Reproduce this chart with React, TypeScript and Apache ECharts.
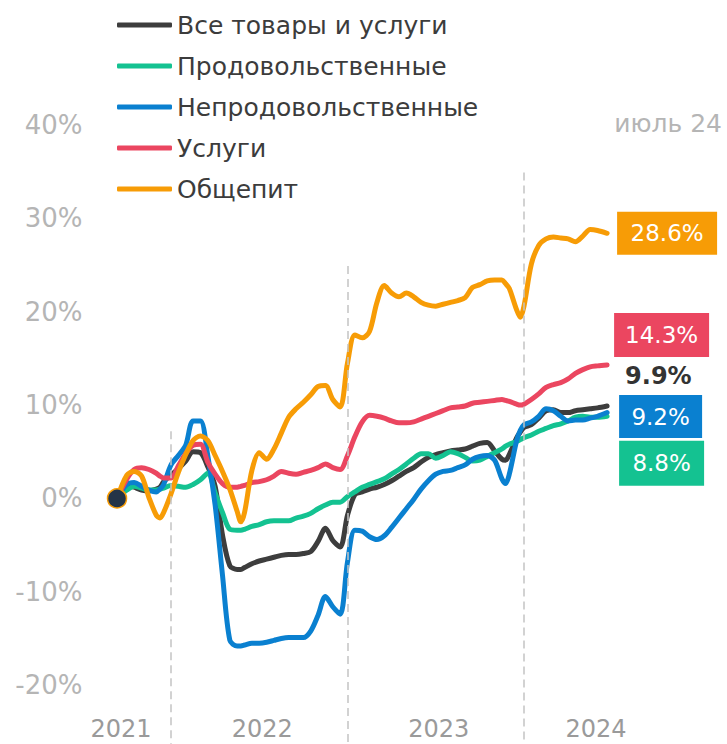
import React, { useEffect, useRef } from "react";
import * as echarts from "echarts";

const months = [
  8.33, 9, 9.5, 10, 10.5, 11, 11.25, 11.5, 12, 12.5, 13, 13.5, 14, 14.5, 15, 15.5, 16, 16.5, 16.75,
  17, 17.5, 18, 18.5, 19, 19.5, 20, 20.5, 21, 21.5, 22, 22.5, 23, 23.5, 24, 24.5, 25, 25.5, 26, 26.5,
  27, 27.5, 28, 28.5, 29, 29.5, 30, 30.5, 31, 31.5, 32, 32.5, 33, 33.5, 34, 34.5, 34.75, 35, 35.5, 35.75,
  36, 36.5, 37, 37.5, 38, 38.5, 39, 39.5, 40, 40.5, 41, 41.65,
];

const allGoods = [
  0, 1.5, 1.2, 0.9, 0.8, 1.0, 1.2, 1.8, 2.5, 3.2, 4.0, 5.0, 4.9, 3.4, 1.3, -3.9, -7.2, -7.6, -7.6,
  -7.4, -7.0, -6.7, -6.5, -6.3, -6.1, -6.0, -6.0, -5.9, -5.7, -4.6, -3.2, -4.5, -5.2, -1.8, 0.4, 0.7, 1.0, 1.2, 1.5,
  1.9, 2.4, 2.9, 3.3, 3.9, 4.4, 4.7, 4.9, 5.1, 5.2, 5.3, 5.6, 5.9, 6.0, 5.1, 4.2, 4.1, 4.7, 6.5, 7.1,
  7.6, 7.9, 8.6, 9.4, 9.5, 9.2, 9.2, 9.4, 9.5, 9.6, 9.7, 9.9,
];

const food = [
  0, 0.9, 1.3, 1.1, 0.9, 0.9, 1.0, 1.1, 1.4, 1.3, 1.2, 1.5, 2.0, 2.7, 0.6, -1.5, -3.3, -3.4, -3.4,
  -3.3, -3.0, -2.8, -2.5, -2.4, -2.4, -2.4, -2.1, -1.9, -1.6, -1.1, -0.7, -0.4, -0.4, 0.2, 0.7, 1.2, 1.5, 1.8, 2.1,
  2.6, 3.1, 3.7, 4.3, 4.8, 4.8, 4.3, 4.6, 5.0, 4.8, 4.4, 4.0, 4.1, 4.5, 4.9, 5.3, 5.6, 5.8, 6.1, 6.3,
  6.5, 6.8, 7.2, 7.5, 7.8, 8.0, 8.3, 8.7, 8.8, 8.7, 8.7, 8.8,
];

const nonFood = [
  0, 1.5, 1.7, 1.3, 0.9, 0.7, 1.0, 1.5, 3.6, 4.6, 5.7, 8.3, 8.3, 4.6, -0.7, -8.2, -15.2, -15.8, -15.8,
  -15.7, -15.5, -15.5, -15.4, -15.2, -15.0, -14.9, -14.9, -14.9, -14.2, -12.5, -10.5, -11.6, -12.4, -6.8, -3.4, -3.5, -4.1, -4.4, -4.0,
  -3.1, -2.1, -1.1, -0.1, 1.0, 1.9, 2.6, 2.9, 3.0, 3.3, 3.6, 4.2, 4.5, 4.6, 4.1, 2.1, 1.6, 2.6, 6.2, 7.3,
  7.9, 8.2, 8.8, 9.6, 9.4, 8.8, 8.3, 8.4, 8.4, 8.6, 8.8, 9.2,
];

const services = [
  0, 2.1, 3.1, 3.3, 3.1, 2.7, 2.4, 2.2, 2.2, 3.5, 4.8, 5.7, 5.8, 3.9, 2.6, 1.6, 1.2, 1.2, 1.3,
  1.4, 1.7, 1.8, 2.0, 2.4, 2.9, 2.7, 2.6, 2.8, 3.0, 3.3, 3.7, 3.3, 3.1, 4.6, 6.6, 8.2, 8.9, 8.8, 8.6,
  8.3, 8.1, 8.1, 8.2, 8.5, 8.8, 9.1, 9.4, 9.7, 9.8, 9.9, 10.2, 10.3, 10.4, 10.5, 10.6, 10.5, 10.4, 10.1, 10.0,
  10.1, 10.6, 11.2, 11.9, 12.2, 12.4, 12.8, 13.4, 13.8, 14.1, 14.2, 14.3,
];

const catering = [
  0, 2.5, 2.9, 2.4, 0.1, -1.8, -2.1, -1.5, 0.5, 2.8, 4.7, 6.2, 6.7, 6.2, 4.6, 2.9, 1.0, -1.4, -2.5,
  -1.5, 3.0, 4.9, 4.2, 5.3, 7.0, 8.7, 9.6, 10.3, 11.1, 12.0, 12.1, 10.6, 9.8, 14.5, 17.5, 17.2, 17.9, 21.0, 22.8,
  22.0, 21.6, 22.0, 21.6, 21.0, 20.7, 20.6, 20.8, 21.0, 21.2, 21.5, 22.6, 22.9, 23.3, 23.4, 23.4, 23.0, 22.5, 20.2, 19.4,
  20.6, 25.1, 27.1, 27.8, 28.0, 27.9, 27.8, 27.5, 28.1, 28.8, 28.7, 28.4,
];

const seriesNames = [
  "Все товары и услуги",
  "Продовольственные",
  "Непродовольственные",
  "Услуги",
  "Общепит",
];
const seriesValues = [allGoods, food, nonFood, services, catering];
const endValues = ["9.9%", "8.8%", "9.2%", "14.3%", "28.6%"];

const yTicks = [-20, -10, 0, 10, 20, 30, 40];
const yearLabels = ["2021", "2022", "2023", "2024"];
const yearLabelPos = [8.6, 18.2, 30.2, 40.9];
const yearBoundaries = [12, 24, 36];
const boundaryTops = [7.2, 24.9, 34.9];
const periodLabel = "июль 24";

const colors = ["#3d3d3d", "#14c291", "#0a80d0", "#eb4660", "#f79c06"];
const FONT = "DejaVu Sans";
const Y_MIN = -26.3;
const Y_MAX = 40;

// label styling: [dx, dy, boxWidth, boxHeight]
const labelBoxes = [
  [18, -30, 0, 0],
  [12, 47, 85, 45],
  [12, 4, 83, 43],
  [7, -30, 95, 44],
  [10, 0, 100, 43],
];

export default function App() {
  const ref = useRef<HTMLDivElement>(null);

  useEffect(() => {
    if (!ref.current) return;
    const chart = echarts.init(ref.current, undefined, { renderer: "svg" });

    const lineSeries = seriesNames.map((name, i) => {
      const [dx, dy, w, h] = labelBoxes[i];
      const isPlain = i === 0;
      const s: any = {
        name,
        type: "line",
        data: months.map((m, k) => [m, seriesValues[i][k]]),
        showSymbol: false,
        symbol: "none",
        smooth: 0.3,
        color: colors[i],
        lineStyle: { width: 5, color: colors[i], cap: "round", join: "round" },
        itemStyle: { color: colors[i] },
        emphasis: { disabled: true },
        endLabel: {
          show: true,
          distance: 0,
          offset: [dx, dy],
          formatter: () => `{v|${endValues[i]}}`,
          rich: isPlain
            ? {
                v: {
                  color: "#333333",
                  fontSize: 24,
                  fontWeight: "bold",
                  fontFamily: FONT,
                },
              }
            : {
                v: {
                  width: w,
                  height: h,
                  lineHeight: h,
                  align: "center",
                  backgroundColor: colors[i],
                  color: "#ffffff",
                  fontSize: 23,
                  fontFamily: FONT,
                },
              },
        },
      };
      if (i === 0) {
        s.markLine = {
          silent: true,
          symbol: "none",
          label: { show: false },
          lineStyle: { color: "#c4c4c4", type: [8, 5], width: 1.5 },
          data: yearBoundaries.map((x, k) => [
            { coord: [x, boundaryTops[k]] },
            { coord: [x, Y_MIN] },
          ]),
        };
      }
      return s;
    });

    const option: any = {
      animation: false,
      title: {
        text: periodLabel,
        right: 5,
        top: 111,
        padding: 0,
        textStyle: { color: "#b5b5b5", fontSize: 25, fontWeight: "normal", fontFamily: FONT },
      },
      legend: {
        data: seriesNames,
        orient: "vertical",
        left: 117,
        top: 12,
        padding: 0,
        itemWidth: 55,
        itemHeight: 5,
        itemGap: 15,
        icon: "roundRect",
        selectedMode: false,
        textStyle: { fontSize: 25, color: "#3c3c3c", fontFamily: FONT, lineHeight: 26 },
      },
      grid: { left: 97.46, right: 85.34, top: 125, bottom: 0 },
      xAxis: {
        type: "value",
        min: 7,
        max: 44,
        axisLine: { show: false },
        axisTick: { show: false },
        splitLine: { show: false },
        axisLabel: {
          customValues: yearLabelPos,
          inside: true,
          margin: 3,
          color: "#9a9a9a",
          fontSize: 24,
          fontFamily: FONT,
          formatter: (v: number) => {
            let best = 0;
            yearLabelPos.forEach((p, k) => {
              if (Math.abs(p - v) < Math.abs(yearLabelPos[best] - v)) best = k;
            });
            return yearLabels[best];
          },
        },
      },
      yAxis: {
        type: "value",
        min: Y_MIN,
        max: Y_MAX,
        axisLine: { show: false },
        axisTick: { show: false },
        splitLine: { show: false },
        axisLabel: {
          customValues: yTicks,
          formatter: "{value}%",
          color: "#b5b5b5",
          fontSize: 26,
          margin: 15,
          fontFamily: FONT,
        },
      },
      series: [
        ...lineSeries,
        {
          name: "start",
          type: "scatter",
          data: [[months[0], allGoods[0]]],
          symbolSize: 19,
          itemStyle: { color: "#243447", borderColor: "#f79c06", borderWidth: 1.5, opacity: 1 },
          z: 10,
          silent: true,
        },
      ],
    };

    chart.setOption(option);
    return () => chart.dispose();
  }, []);

  return (
    <div
      ref={ref}
      style={{ position: "absolute", left: 0, top: 0, width: 727, height: 744 }}
    />
  );
}
